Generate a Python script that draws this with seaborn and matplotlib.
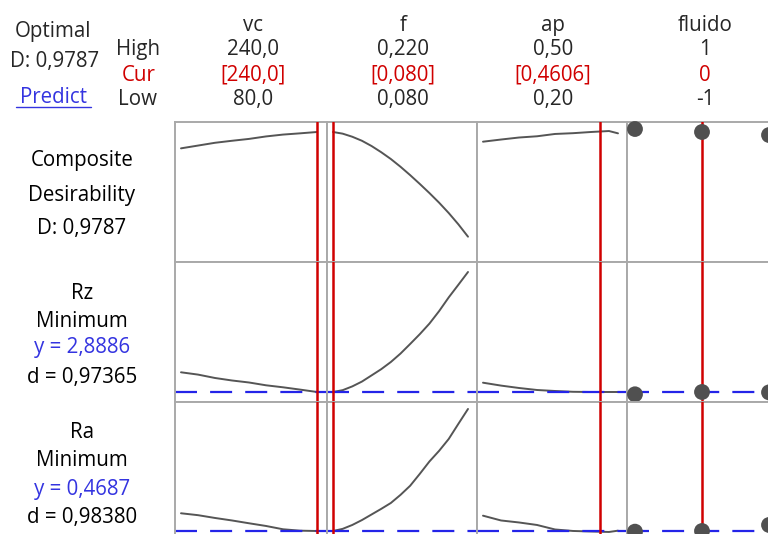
import numpy as np
import pandas as pd
import matplotlib
matplotlib.use("Agg")
import matplotlib.pyplot as plt
from matplotlib.lines import Line2D
import seaborn as sns

sns.set_style("white")
plt.rcParams['font.family'] = ['Open Sans', 'DejaVu Sans']

# ---------------- data ----------------
factors = ["vc", "f", "ap", "fluido"]
high_labels = ["240,0", "0,220", "0,50", "1"]
cur_labels = ["[240,0]", "[0,080]", "[0,4606]", "0"]
low_labels = ["80,0", "0,080", "0,20", "-1"]
cur_values = [240.0, 0.080, 0.4606, 0.0]

vc_x = [80, 100, 120, 140, 160, 180, 200, 220, 240]
f_x = [0.08, 0.09, 0.10, 0.11, 0.12, 0.13, 0.14, 0.15, 0.16, 0.17, 0.18, 0.19, 0.20, 0.21, 0.22]
ap_x = [0.20, 0.24, 0.28, 0.32, 0.36, 0.40, 0.44, 0.48, 0.50]
fluido_x = [-1, 0, 1]

# Composite desirability
D_vc = [0.873, 0.891, 0.909, 0.922, 0.934, 0.950, 0.962, 0.970, 0.9787]
D_f = [0.9787, 0.968, 0.948, 0.922, 0.888, 0.848, 0.804, 0.754, 0.700,
       0.643, 0.584, 0.522, 0.455, 0.382, 0.302]
D_ap = [0.916, 0.930, 0.943, 0.951, 0.966, 0.971, 0.9787, 0.985, 0.970]
D_fluido = [0.998, 0.9787, 0.959]

# Rz
Rz_vc = [3.874, 3.759, 3.589, 3.464, 3.364, 3.224, 3.124, 3.009, 2.8886]
Rz_f = [2.8886, 2.98, 3.169, 3.41, 3.719, 4.03, 4.389, 4.81, 5.289,
        5.78, 6.309, 6.93, 7.619, 8.25, 8.889]
Rz_ap = [3.354, 3.209, 3.089, 2.989, 2.939, 2.899, 2.889, 2.889, 2.889]
Rz_fluido = [2.774, 2.8886, 2.87]

# Ra
Ra_vc = [0.646, 0.627, 0.599, 0.574, 0.546, 0.519, 0.486, 0.472, 0.4687]
Ra_f = [0.4687, 0.49, 0.529, 0.578, 0.634, 0.69, 0.749, 0.83, 0.921,
        1.04, 1.164, 1.27, 1.389, 1.54, 1.689]
Ra_ap = [0.622, 0.574, 0.554, 0.529, 0.484, 0.469, 0.464, 0.459, 0.472]
Ra_fluido = [0.462, 0.4687, 0.529]

row_targets = [None, 2.8886, 0.4687]
row_ylims = [(0.1384, 1.0433), (2.3886, 9.3886), (0.3587, 1.7587)]
col_xlims = [(72.94, 251.76), (0.07378, 0.22933), (0.18667, 0.52), (-1.119, 1.119)]

rows = [
    [(vc_x, D_vc), (f_x, D_f), (ap_x, D_ap), (fluido_x, D_fluido)],
    [(vc_x, Rz_vc), (f_x, Rz_f), (ap_x, Rz_ap), (fluido_x, Rz_fluido)],
    [(vc_x, Ra_vc), (f_x, Ra_f), (ap_x, Ra_ap), (fluido_x, Ra_fluido)],
]

row_labels = [
    [("Composite", 166, 'k'), ("Desirability", 201, 'k'), ("D: 0,9787", 234, 'k')],
    [("Rz", 299, 'k'), ("Minimum", 327, 'k'), ("y = 2,8886", 353, 'blue'), ("d = 0,97365", 383, 'k')],
    [("Ra", 438, 'k'), ("Minimum", 466, 'k'), ("y = 0,4687", 495, 'blue'), ("d = 0,98380", 523, 'k')],
]

# ---------------- figure ----------------
W, H = 768, 534
fig = plt.figure(figsize=(W / 100, H / 100), dpi=100)

col_edges = [175, 327, 477, 627, 777]
row_edges = [122, 262, 402, 542]

GRAY = '#a9a9a9'
CURVE = '#555555'
RED = '#d00000'
BLUE = '#2424e8'
TXTBLUE = '#3434e0'
FS = 14.8

def fx(x):
    return x / W

def fy(y):
    return 1 - y / H

for r in range(3):
    for c in range(4):
        x0, x1 = col_edges[c], col_edges[c + 1]
        y0, y1 = row_edges[r], row_edges[r + 1]
        ax = fig.add_axes([fx(x0), fy(y1), (x1 - x0) / W, (y1 - y0) / H])
        xs, ys = rows[r][c]
        df = pd.DataFrame({"x": xs, "y": ys})
        if c < 3:
            sns.lineplot(data=df, x="x", y="y", ax=ax, color=CURVE, lw=1.4)
        else:
            sns.scatterplot(data=df, x="x", y="y", ax=ax, color='#505050', s=130,
                            edgecolor='none', zorder=4, clip_on=False)
        ax.axvline(cur_values[c], color=RED, lw=1.8, zorder=3)
        if row_targets[r] is not None:
            ax.axhline(row_targets[r], color=BLUE, lw=1.6, dashes=(9.9, 5.9), zorder=2,
                       clip_on=False)
        ax.set_xlim(*col_xlims[c])
        ax.set_ylim(*row_ylims[r])
        ax.set_xticks([])
        ax.set_yticks([])
        ax.set_xlabel("")
        ax.set_ylabel("")
        for s in ax.spines.values():
            s.set_color(GRAY)
            s.set_linewidth(1.4)

# ---------------- header texts ----------------
fig.text(fx(53), fy(37), "Optimal", ha='center', va='baseline', fontsize=FS)
fig.text(fx(55), fy(67), "D: 0,9787", ha='center', va='baseline', fontsize=FS)
fig.text(fx(53), fy(103), "Predict", ha='center', va='baseline', fontsize=FS, color=TXTBLUE)
fig.add_artist(Line2D([fx(16), fx(91)], [fy(107), fy(107)], color=TXTBLUE, lw=1.0,
                      transform=fig.transFigure))

fig.text(fx(138), fy(55), "High", ha='center', va='baseline', fontsize=FS)
fig.text(fx(139), fy(81), "Cur", ha='center', va='baseline', fontsize=FS, color=RED)
fig.text(fx(138), fy(105), "Low", ha='center', va='baseline', fontsize=FS)

col_centers = [253, 403, 553, 705]
for c in range(4):
    cx = col_centers[c]
    fig.text(fx(cx), fy(31), factors[c], ha='center', va='baseline', fontsize=FS)
    fig.text(fx(cx), fy(55), high_labels[c], ha='center', va='baseline', fontsize=FS)
    fig.text(fx(cx), fy(81), cur_labels[c], ha='center', va='baseline', fontsize=FS, color=RED)
    fig.text(fx(cx), fy(105), low_labels[c], ha='center', va='baseline', fontsize=FS)

for labels in row_labels:
    for txt, yb, col in labels:
        fig.text(fx(82), fy(yb), txt, ha='center', va='baseline', fontsize=FS,
                 color=TXTBLUE if col == 'blue' else 'black')

fig.savefig("out.png", dpi=100, facecolor='white')
